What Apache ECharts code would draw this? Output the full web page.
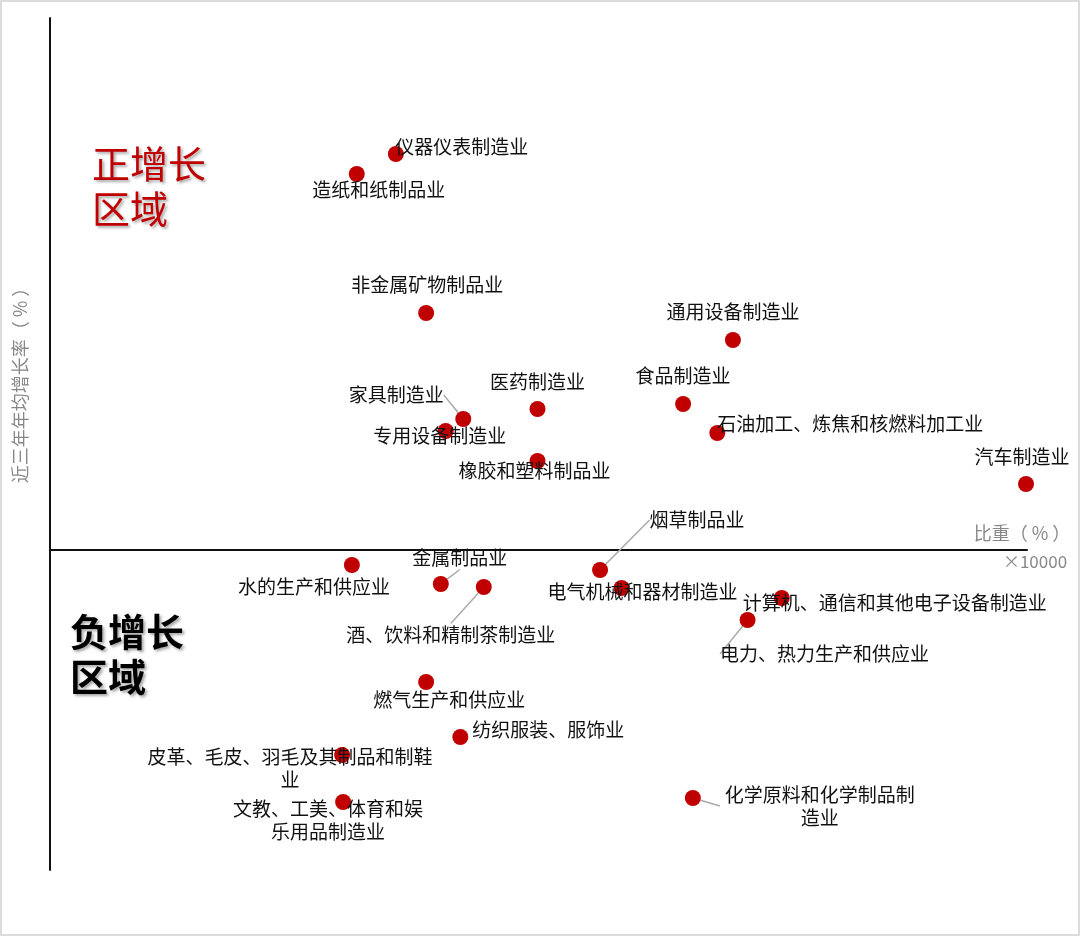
<!DOCTYPE html>
<html>
<head>
<meta charset="utf-8">
<script src="https://cdn.jsdelivr.net/npm/echarts@6/dist/echarts.min.js"></script>
<style>
  html, body { margin: 0; padding: 0; background: #fff; }
  #chart { width: 1080px; height: 936px; }
</style>
</head>
<body>
<div id="chart"></div>
<script>
// 行业名称
var industries = ['仪器仪表制造业', '造纸和纸制品业', '非金属矿物制品业', '通用设备制造业', '医药制造业',
  '食品制造业', '家具制造业', '专用设备制造业', '石油加工、炼焦和核燃料加工业', '橡胶和塑料制品业',
  '汽车制造业', '烟草制品业', '水的生产和供应业', '金属制品业', '酒、饮料和精制茶制造业',
  '电气机械和器材制造业', '计算机、通信和其他电子设备制造业', '电力、热力生产和供应业', '燃气生产和供应业', '纺织服装、服饰业',
  '皮革、毛皮、羽毛及其制品和制鞋业', '文教、工美、体育和娱乐用品制造业', '化学原料和化学制品制造业']
// 比重
var share = [35.4, 31.4, 38.5, 69.9, 49.9, 64.8, 42.3, 40.5, 68.3, 49.9,
  99.9, 56.3, 30.9, 40.0, 44.4, 58.5, 74.9, 71.4, 38.5, 42.0, 29.9, 30.0, 65.8]
// 近三年年均增长率
var growth = [39.6, 37.6, 23.7, 21.0, 14.1, 14.6, 13.1, 11.9, 11.7, 8.9,
  6.6, -2.0, -1.5, -3.4, -3.7, -3.8, -4.8, -7.0, -13.2, -18.7, -20.5, -25.2, -24.8]

// 标签偏移（相对圆点）
var labelShift = [[66, -7], [22, 16], [1, -28], [0, -28], [0, -27],
  [0, -28], [-67, -24], [-6, 5], [133, -9], [-3, 10],
  [-4, -27], [97, -50], [-38, 22], [19, -26], [-33, 48],
  [21, 4], [113, 5], [77, 34], [23, 18], [88, -7],
  [-52, 13], [-15, 18], [127, 8]]
var leaderNames = ['家具制造业', '烟草制品业', '金属制品业', '酒、饮料和精制茶制造业', '电力、热力生产和供应业', '化学原料和化学制品制造业']
var wrapWidth = { '皮革、毛皮、羽毛及其制品和制鞋业': 292, '文教、工美、体育和娱乐用品制造业': 200, '化学原料和化学制品制造业': 200 }

var seriesData = industries.map(function (n, i) {
  var item = { name: n, value: [share[i], growth[i]] }
  var lbl = {}
  if (wrapWidth[n]) { lbl.width = wrapWidth[n]; lbl.overflow = 'break' }
  item.label = lbl
  if (leaderNames.indexOf(n) > -1) item.labelLine = { show: true }
  return item
})

var font = '"Noto Sans CJK SC", sans-serif'
var chart = echarts.init(document.getElementById('chart'))
chart.setOption({
  backgroundColor: '#fff',
  animation: false,
  grid: { left: 50, top: 18, right: 53, bottom: 66 },
  xAxis: {
    type: 'value', min: 0, max: 100,
    axisLine: { onZero: true, lineStyle: { color: '#111', width: 2 } },
    axisTick: { show: false }, axisLabel: { show: false }, splitLine: { show: false }
  },
  yAxis: {
    type: 'value', min: -32, max: 53.2,
    axisLine: { show: true, onZero: false, lineStyle: { color: '#111', width: 2 } },
    axisTick: { show: false }, axisLabel: { show: false }, splitLine: { show: false }
  },
  graphic: [
    { type: 'rect', shape: { x: 1, y: 1, width: 1078, height: 934 }, style: { fill: 'none', stroke: '#dcdcdc', lineWidth: 2 }, silent: true },
    { type: 'text', left: 92, top: 141, style: { text: '正增长\n区域', fill: '#C00000', font: '38px ' + font, lineHeight: 45,
      textShadowColor: 'rgba(0,0,0,0.35)', textShadowBlur: 3, textShadowOffsetX: 2, textShadowOffsetY: 2 } },
    { type: 'text', left: 70, top: 609, style: { text: '负增长\n区域', fill: '#000', font: 'bold 38px ' + font, lineHeight: 45,
      textShadowColor: 'rgba(0,0,0,0.35)', textShadowBlur: 3, textShadowOffsetX: 2, textShadowOffsetY: 2 } },
    { type: 'text', x: 20, y: 381, rotation: Math.PI / 2, style: { text: '近三年年均增长率（ % ）', fill: '#888', font: '18px ' + font, align: 'center', verticalAlign: 'middle' } },
    { type: 'text', x: 1022, y: 533, style: { text: '比重（ % ）', fill: '#888', font: '18px ' + font, align: 'center', verticalAlign: 'middle' } },
    { type: 'text', x: 1035, y: 562, style: { text: '×10000', fill: '#888', font: '17px ' + font, align: 'center', verticalAlign: 'middle' } }
  ],
  series: [{
    type: 'scatter',
    clip: false,
    symbolSize: 16,
    itemStyle: { color: '#C00000', opacity: 1 },
    label: {
      show: true, position: 'inside', formatter: '{b}',
      color: '#111', fontSize: 19, lineHeight: 23, fontFamily: font, align: 'center'
    },
    labelLine: { show: false, lineStyle: { color: '#aaa', width: 1.5 } },
    labelLayout: function (p) {
      var o = labelShift[p.dataIndex]
      return { dx: o[0], dy: o[1] }
    },
    data: seriesData
  }]
})
</script>
</body>
</html>
